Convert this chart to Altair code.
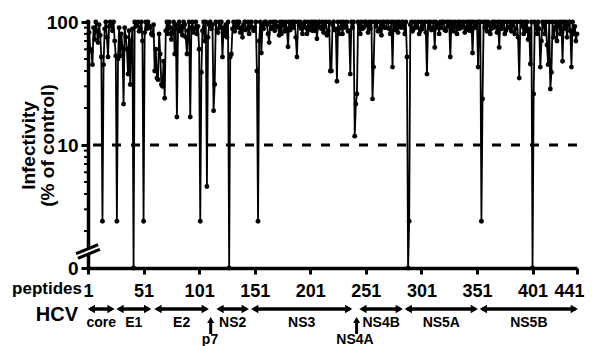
import altair as alt
import pandas as pd

FONT = "Liberation Sans"

peptide_ticks = [1, 51, 101, 151, 201, 251, 301, 351, 401, 441]
y_major = [1, 10, 100]
y_minor = [2, 3, 4, 5, 6, 7, 8, 9, 20, 30, 40, 50, 60, 70, 80, 90]
cutoff = [10]

# infectivity (% of control) for peptides 1..441 (0 = no infectivity)
infectivity = [
    100, 82, 60, 58, 45, 90, 72, 100, 85, 68,
    95, 78, 52, 2.4, 45, 88, 100, 75, 52, 92,
    100, 95, 85, 100, 70, 53, 2.4, 50, 90, 53,
    80, 62, 21.5, 90, 75, 60, 37.7, 85, 31, 70,
    88, 0, 100, 92, 95, 100, 84, 90, 100, 70,
    2.4, 82, 100, 88, 100, 93, 90, 80, 78, 95,
    40, 60, 35, 34, 80, 55, 31, 30, 48, 24,
    85, 100, 80, 100, 90, 72, 82, 100, 55, 95,
    16.9, 88, 100, 84, 92, 78, 100, 95, 75, 55,
    85, 100, 16.9, 90, 100, 82, 88, 100, 80, 92,
    60, 2.4, 39, 85, 100, 70, 100, 4.6, 75, 95,
    100, 88, 95, 19, 31, 100, 86, 82, 100, 90,
    100, 52, 90, 78, 95, 75, 100, 0, 52, 55,
    88, 100, 84, 95, 100, 90, 100, 82, 90, 75,
    95, 100, 86, 88, 100, 80, 92, 100, 90, 85,
    90, 100, 40, 2.4, 70, 100, 56, 95, 88, 100,
    100, 95, 80, 68, 100, 88, 90, 100, 85, 100,
    92, 92, 78, 100, 80, 100, 95, 84, 100, 88,
    63, 100, 86, 95, 100, 90, 100, 75, 52, 100,
    94, 100, 88, 80, 95, 100, 90, 80, 100, 86,
    92, 100, 85, 100, 85, 100, 73, 95, 100, 90,
    88, 100, 82, 92, 100, 78, 85, 100, 40, 40,
    95, 100, 86, 88, 33, 100, 80, 90, 100, 80,
    100, 90, 92, 100, 84, 85, 37.7, 100, 90, 100,
    11.8, 21.5, 26, 100, 95, 80, 100, 88, 90, 100,
    100, 95, 82, 100, 88, 100, 23.7, 43, 100, 92,
    100, 84, 85, 100, 78, 95, 100, 90, 90, 100,
    100, 88, 80, 100, 43, 100, 95, 86, 100, 82,
    100, 92, 90, 100, 95, 80, 100, 52, 0, 2.4,
    95, 100, 84, 88, 100, 90, 92, 100, 80, 85,
    100, 88, 95, 100, 82, 37.7, 100, 90, 100, 86,
    88, 100, 62, 100, 90, 95, 80, 100, 90, 100,
    100, 86, 85, 100, 92, 100, 52, 100, 95, 84,
    100, 92, 80, 100, 88, 100, 90, 95, 100, 82,
    90, 100, 86, 100, 85, 100, 56, 100, 90, 95,
    100, 43, 100, 100, 2.4, 23.7, 100, 90, 100, 84,
    100, 95, 80, 88, 100, 90, 100, 92, 82, 100,
    62, 100, 88, 95, 100, 80, 85, 100, 90, 90,
    100, 84, 95, 100, 80, 88, 100, 75, 35, 100,
    100, 92, 80, 100, 85, 100, 72, 88, 45.6, 100,
    0, 26, 100, 95, 80, 100, 88, 43, 70, 100,
    95, 80, 100, 65, 45, 100, 28.5, 39, 100, 75,
    90, 100, 70, 95, 100, 80, 100, 48, 100, 88,
    100, 75, 95, 100, 85, 43, 100, 80, 92, 70, 80,
]
assert len(infectivity) == 441

regions = ["core", "E1", "E2", "NS2", "NS3", "NS4B", "NS5A", "NS5B"]
region_start = [0.4, 26.2, 60.4, 116.2, 147.4, 244.8, 285.6, 353.1]
region_end = [25.3, 58.3, 110.1, 146.1, 239.2, 284.7, 352.2, 442.2]

small_proteins = ["p7", "NS4A"]
small_pos = [111.4, 242.7]
small_label_pos = [110.8, 241.2]

df = pd.DataFrame({"peptide": list(range(1, len(infectivity) + 1)),
                   "infectivity": infectivity})
df["plotted"] = df["infectivity"].clip(lower=1)

adf = pd.DataFrame({"region": regions, "start": region_start, "end": region_end})
adf["mid"] = (adf["start"] + adf["end"]) / 2
sdf = pd.DataFrame({"name": small_proteins, "pos": small_pos, "label_pos": small_label_pos})

xscale = alt.Scale(domain=[1, 441], nice=False, zero=False)
yscale = alt.Scale(type="log", domain=[1, 100], nice=False)

x_axis = alt.Axis(values=peptide_ticks, title=None, grid=False,
                  labelFont=FONT, labelFontSize=18, labelFontWeight="bold",
                  labelColor="black", labelPadding=8, labelFlush=False,
                  labelOffset={"condition": {"test": "datum.value == 441", "value": -8},
                               "value": 0},
                  tickSize=6, tickWidth=3, tickColor="black",
                  domainColor="black", domainWidth=3.5)
y_axis = alt.Axis(values=y_major, grid=False,
                  labelExpr="datum.value == 1 ? '0' : format(datum.value, 'd')",
                  labelFont=FONT, labelFontSize=19, labelFontWeight="bold",
                  labelColor="black", labelPadding=3,
                  tickSize=7, tickWidth=3, tickColor="black",
                  domainColor="black", domainWidth=3.5,
                  title=["Infectivity", "(% of control)"],
                  titleFont=FONT, titleFontSize=19, titleFontWeight="bold",
                  titleColor="black", titleAngle=270, titleAlign="center",
                  titleBaseline="bottom", titleLineHeight=19,
                  titleX=-50, titleY=123)


def X(field):
    return alt.X(field, scale=xscale, axis=x_axis)


def Y(field):
    return alt.Y(field, scale=yscale, axis=y_axis)


dashed = alt.Chart(pd.DataFrame({"y": cutoff})).mark_rule(
    color="black", strokeWidth=3, strokeDash=[9, 10]
).encode(y=Y("y:Q"))

minor = alt.Chart(pd.DataFrame({"v": y_minor})).mark_rule(
    color="black", strokeWidth=2
).encode(y=Y("v:Q"), x=alt.value(-4), x2=alt.value(0))

line = alt.Chart(df).mark_line(color="black", strokeWidth=1.8).encode(
    x=X("peptide:Q"), y=Y("plotted:Q"))
pts = alt.Chart(df).mark_circle(color="black", size=24, opacity=1).encode(
    x=X("peptide:Q"), y=Y("plotted:Q"))

AY = 287
shaft = alt.Chart(adf).mark_rule(color="black", strokeWidth=3.5, xOffset=3, x2Offset=-3).encode(
    x=X("start:Q"), x2="end:Q", y=alt.value(AY))
lhead = alt.Chart(adf).mark_point(shape="triangle-left", filled=True, size=70, color="black",
                                  opacity=1, xOffset=4).encode(
    x=X("start:Q"), y=alt.value(AY))
rhead = alt.Chart(adf).mark_point(shape="triangle-right", filled=True, size=70, color="black",
                                  opacity=1, xOffset=-4).encode(
    x=X("end:Q"), y=alt.value(AY))
rlabels = alt.Chart(adf).mark_text(font=FONT, fontSize=14, fontWeight="bold", color="black",
                                   baseline="middle").encode(
    x=X("mid:Q"), y=alt.value(301), text="region:N")

sshaft = alt.Chart(sdf).mark_rule(color="black", strokeWidth=3).encode(
    x=X("pos:Q"), y=alt.value(312), y2=alt.value(299))
shead = alt.Chart(sdf).mark_point(shape="triangle-up", filled=True, size=50, color="black",
                                  opacity=1).encode(
    x=X("pos:Q"), y=alt.value(298))
slabels = alt.Chart(sdf).mark_text(font=FONT, fontSize=14, fontWeight="bold", color="black",
                                   baseline="middle").encode(
    x=X("label_pos:Q"), y=alt.value(318), text="name:N")

pep_text = alt.Chart(pd.DataFrame({"t": ["peptides"]})).mark_text(
    font=FONT, fontSize=17, fontWeight="bold", color="black", align="right", baseline="middle"
).encode(x=alt.value(-6), y=alt.value(267), text="t:N")
hcv_text = alt.Chart(pd.DataFrame({"t": ["HCV"]})).mark_text(
    font=FONT, fontSize=20, fontWeight="bold", color="black", align="right", baseline="middle"
).encode(x=alt.value(-10), y=alt.value(293), text="t:N")

brk_black = alt.Chart(pd.DataFrame({"a": [0]})).mark_rule(color="black", strokeWidth=8).encode(
    x=alt.value(-11), x2=alt.value(11), y=alt.value(234), y2=alt.value(225))
brk_white = alt.Chart(pd.DataFrame({"a": [0]})).mark_rule(color="white", strokeWidth=2).encode(
    x=alt.value(-12), x2=alt.value(12), y=alt.value(234.4), y2=alt.value(224.6))

chart = alt.layer(
    line, pts, dashed, minor, shaft, lhead, rhead, rlabels,
    sshaft, shead, slabels, pep_text, hcv_text, brk_black, brk_white
).properties(
    width=489, height=246,
    autosize=alt.AutoSizeParams(type="none"),
    padding={"left": 80, "top": 14, "right": 8, "bottom": 78},
).configure_view(stroke=None)

chart.save("out.html", embed_options={"renderer": "svg", "actions": False})
